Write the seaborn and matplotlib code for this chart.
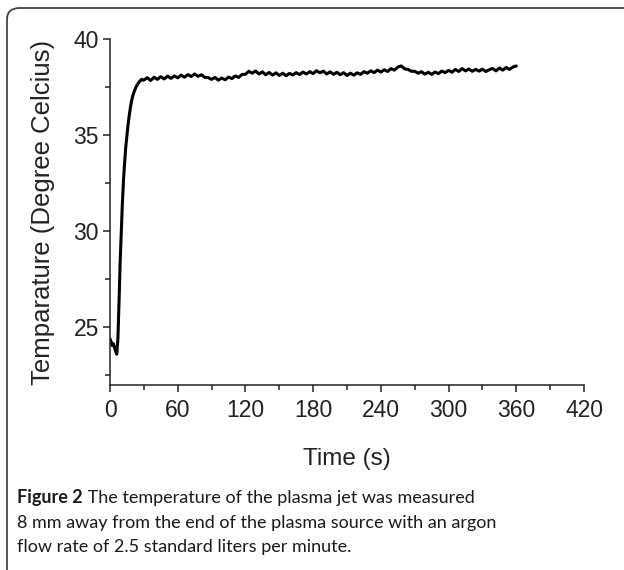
import matplotlib
matplotlib.use("Agg")
import matplotlib.pyplot as plt
from matplotlib.patches import FancyBboxPatch
import seaborn as sns
import pandas as pd
import numpy as np

#%% data

# start-up part, 1 s steps
time_start = list(range(0, 30))
temp_start = [24.40, 24.25, 24.05, 24.15, 23.95, 23.75, 23.60, 24.40, 26.30, 28.40,
              30.00, 31.50, 32.70, 33.60, 34.40, 35.00, 35.55, 36.00, 36.40, 36.75,
              37.00, 37.20, 37.35, 37.50, 37.60, 37.70, 37.78, 37.84, 37.90, 37.86]

# plateau, 3 s steps
time_plateau = list(range(30, 361, 3))
temp_plateau = [37.86, 37.99, 37.84, 38.01, 37.90, 38.04, 37.92, 38.07, 37.95, 38.08,
                37.98, 38.12, 38.01, 38.15, 38.05, 38.18, 38.06, 38.14, 38.00, 37.99,
                37.90, 38.00, 37.86, 37.97, 37.88, 38.02, 37.94, 38.08, 38.00, 38.16,
                38.16, 38.32, 38.22, 38.34, 38.18, 38.29, 38.14, 38.26, 38.12, 38.24,
                38.10, 38.22, 38.09, 38.21, 38.13, 38.25, 38.15, 38.28, 38.18, 38.30,
                38.20, 38.35, 38.24, 38.33, 38.18, 38.29, 38.16, 38.27, 38.14, 38.25,
                38.10, 38.22, 38.12, 38.24, 38.16, 38.30, 38.22, 38.35, 38.25, 38.38,
                38.28, 38.40, 38.31, 38.46, 38.38, 38.54, 38.60, 38.45, 38.42, 38.32,
                38.32, 38.22, 38.30, 38.17, 38.27, 38.16, 38.28, 38.20, 38.33, 38.25,
                38.37, 38.27, 38.42, 38.31, 38.46, 38.34, 38.44, 38.32, 38.42, 38.33,
                38.43, 38.31, 38.40, 38.47, 38.34, 38.49, 38.38, 38.52, 38.42, 38.54,
                38.60]

x_ticks = [0, 60, 120, 180, 240, 300, 360, 420]
y_ticks = [25, 30, 35, 40]

caption_bold = "Figure 2"
caption_lines = [" The temperature of the plasma jet was measured",
                 "8 mm away from the end of the plasma source with an argon",
                 "flow rate of 2.5 standard liters per minute."]

df = pd.DataFrame({"time": time_start + time_plateau,
                   "temp": temp_start + temp_plateau})

#%% plotting

sns.set_style("ticks")
plt.rcParams['font.family'] = ['Liberation Sans', 'DejaVu Sans']
plt.rcParams['axes.linewidth'] = 1.1
plt.rcParams['xtick.major.width'] = 1.1
plt.rcParams['ytick.major.width'] = 1.1
plt.rcParams['xtick.minor.width'] = 1.1
plt.rcParams['ytick.minor.width'] = 1.1

fig = plt.figure(figsize=(6.24, 5.70), dpi=100)
ax = fig.add_axes([110 / 624, 1 - 385 / 570, 474 / 624, 346 / 570])

sns.lineplot(data=df, x="time", y="temp", color="black", linewidth=2.2, ax=ax)

ax.set_xlim(0, 420)
ax.set_ylim(22, 40)
ax.set_xticks(x_ticks)
ax.set_xticks(np.arange(30, 420, 60), minor=True)
ax.set_yticks(y_ticks)
ax.set_yticks([22.5, 27.5, 32.5, 37.5], minor=True)
ax.tick_params(which='major', length=5, labelsize=16.5, pad=3, colors='#222222')
ax.tick_params(which='minor', length=3.5, colors='#222222')
ax.tick_params(axis='x', pad=5)
sns.despine(ax=ax)
for sp in ax.spines.values():
    sp.set_color('#222222')

ax.set_xlabel("Time (s)", fontsize=17.5, labelpad=19, color='#222222')
ax.set_ylabel("Temparature (Degree Celcius)", fontsize=18.5, labelpad=13, color='#222222')

# rounded frame around the figure
frame = FancyBboxPatch((7 / 624, -0.05), 1.2, 0.05 + 562 / 570,
                       boxstyle="round,pad=0,rounding_size=0.02",
                       transform=fig.transFigure, fill=False,
                       edgecolor='#444444', linewidth=1.3, clip_on=False)
fig.patches.append(frame)

# caption
cap_font = ['Lato', 'DejaVu Sans']
cap_x = 17 / 624
cap_y = [1 - 498 / 570, 1 - 523 / 570, 1 - 547 / 570]
t_bold = fig.text(cap_x, cap_y[0], caption_bold, fontsize=13, fontweight='bold',
                  family=cap_font, color='#1a1a1a', va='center')
renderer = fig.canvas.get_renderer()
bb = t_bold.get_window_extent(renderer=renderer)
fig.text(bb.x1 / fig.bbox.width, cap_y[0], caption_lines[0], fontsize=13,
         family=cap_font, color='#1a1a1a', va='center')
for line, y in zip(caption_lines[1:], cap_y[1:]):
    fig.text(cap_x, y, line, fontsize=13, family=cap_font, color='#1a1a1a', va='center')

fig.savefig("out.png", dpi=100)
